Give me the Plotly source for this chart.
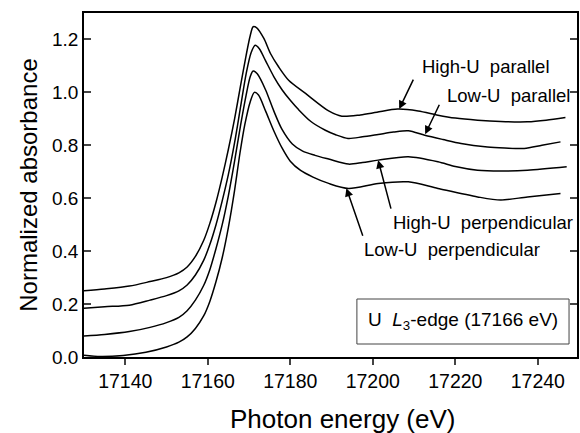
import plotly.graph_objects as go

# ---- data ----
e_hpar = [17130, 17135, 17141, 17146, 17150, 17153, 17155, 17157, 17159, 17160.5, 17162, 17163.5,
          17165, 17166.5, 17168, 17169.3, 17170.3, 17171, 17171.8, 17173.6, 17175.2, 17177.2, 17179.6,
          17183.7, 17189.3, 17192.5, 17197, 17201, 17206, 17211, 17215.8, 17220, 17225.4, 17231,
          17237.5, 17242, 17246.7]
a_hpar = [0.250, 0.257, 0.268, 0.285, 0.300, 0.318, 0.340, 0.380, 0.440, 0.505, 0.585, 0.680,
          0.785, 0.900, 1.030, 1.140, 1.215, 1.248, 1.245, 1.204, 1.147, 1.096, 1.046,
          0.996, 0.930, 0.910, 0.915, 0.925, 0.937, 0.930, 0.914, 0.903, 0.895, 0.890,
          0.889, 0.895, 0.905]

e_lpar = [17130, 17135, 17141, 17146, 17150, 17153, 17155, 17157, 17159, 17160.5, 17162, 17163.5,
          17165, 17166.5, 17168, 17169.3, 17170.5, 17171.5, 17172.5, 17174, 17176, 17178, 17180,
          17182, 17185, 17188.5, 17191, 17194, 17197.5, 17201.3, 17205, 17208.6, 17212.6, 17217,
          17221.4, 17227.8, 17232, 17236.7, 17241, 17245.5]
a_lpar = [0.184, 0.190, 0.196, 0.215, 0.232, 0.250, 0.272, 0.310, 0.365, 0.425, 0.500, 0.590,
          0.690, 0.810, 0.950, 1.070, 1.150, 1.178, 1.165, 1.120, 1.060, 1.010, 0.970,
          0.935, 0.890, 0.857, 0.840, 0.826, 0.832, 0.841, 0.850, 0.855, 0.838, 0.822,
          0.807, 0.794, 0.790, 0.788, 0.800, 0.813]

e_hper = [17130, 17135, 17141, 17146, 17150, 17153, 17155, 17157, 17159, 17160.5, 17162, 17163.5,
          17165, 17166.5, 17168, 17169.3, 17170.3, 17171, 17172, 17174, 17176, 17178, 17180.5,
          17183, 17186, 17189.3, 17194.1, 17197.5, 17201.3, 17208.6, 17215.8, 17220, 17225.4,
          17231, 17237.5, 17247]
a_hper = [0.079, 0.085, 0.096, 0.112, 0.130, 0.150, 0.175, 0.215, 0.270, 0.330, 0.410, 0.500,
          0.610, 0.740, 0.880, 0.990, 1.060, 1.081, 1.070, 1.010, 0.930, 0.860, 0.805,
          0.778, 0.762, 0.748, 0.729, 0.735, 0.744, 0.757, 0.738, 0.720, 0.706,
          0.703, 0.706, 0.719]

e_lper = [17130, 17134, 17139.5, 17145, 17150, 17153, 17155, 17157, 17159, 17160.5, 17162, 17163.5,
          17165, 17166.5, 17167.8, 17169, 17170.3, 17171.3, 17172.3, 17174, 17176, 17178, 17180,
          17182.5, 17185.5, 17189.3, 17194.1, 17201.3, 17208.6, 17215.8, 17225.4, 17231, 17237.5,
          17245.5]
a_lper = [0.007, 0.002, 0.006, 0.018, 0.038, 0.056, 0.076, 0.108, 0.155, 0.210, 0.285, 0.375,
          0.490, 0.630, 0.770, 0.880, 0.965, 1.000, 0.990, 0.930, 0.855, 0.790, 0.740,
          0.705, 0.680, 0.656, 0.637, 0.656, 0.662, 0.637, 0.605, 0.593, 0.605,
          0.618]

y_ticks = [0.0, 0.2, 0.4, 0.6, 0.8, 1.0, 1.2]
x_ticks = [17140, 17160, 17180, 17200, 17220, 17240]

FONT = "Liberation Sans, Arial, sans-serif"

fig = go.Figure()
for ex, ay in [(e_hpar, a_hpar), (e_lpar, a_lpar), (e_hper, a_hper), (e_lper, a_lper)]:
    fig.add_trace(go.Scatter(x=ex, y=ay, mode="lines",
                             line=dict(color="black", width=1.5, shape="spline", smoothing=0.8),
                             showlegend=False, hoverinfo="skip"))

# labels with arrows: (text, text x, text y, arrow tip x, tip y, tail x, tail y)
labels = [
    ("High-U  parallel", 17211.5, 1.097, 17206.4, 0.937, 17210.0, 1.054),
    ("Low-U  parallel", 17217.5, 0.990, 17212.7, 0.842, 17216.3, 0.959),
    ("High-U  perpendicular", 17204.5, 0.510, 17201.3, 0.744, 17204.5, 0.555),
    ("Low-U  perpendicular", 17197.5, 0.405, 17193.6, 0.638, 17197.7, 0.453),
]
for txt, tx, ty, hx, hy, sx, sy in labels:
    fig.add_annotation(x=tx, y=ty, text=txt, showarrow=False, xanchor="left", yanchor="middle",
                       font=dict(family=FONT, size=18.5, color="black"))
    fig.add_annotation(x=hx, y=hy, ax=sx, ay=sy, axref="x", ayref="y", text="", showarrow=True,
                       arrowhead=2, arrowsize=1.1, arrowwidth=1.5, arrowcolor="black")

# edge label box
fig.add_shape(type="rect", xref="paper", yref="paper",
              x0=(358 - 84) / 495, x1=(571 - 84) / 495, y0=(357 - 344) / 344, y1=(357 - 299) / 344,
              line=dict(color="#444444", width=1), fillcolor="white")
fig.add_annotation(xref="paper", yref="paper", x=(367 - 84) / 495, y=(357 - 321) / 344,
                   xanchor="left", yanchor="middle", showarrow=False,
                   text="U  <i>L</i><sub>3</sub>-edge (17166 eV)",
                   font=dict(family=FONT, size=19, color="black"))

# x-axis title
fig.add_annotation(xref="paper", yref="paper", x=(344 - 84) / 495, y=(357 - 419) / 344,
                   xanchor="center", yanchor="middle", showarrow=False,
                   text="Photon energy (eV)", font=dict(family=FONT, size=26, color="black"))

fig.update_layout(
    width=580, height=433,
    margin=dict(l=84, r=1, t=13, b=76),
    paper_bgcolor="white", plot_bgcolor="white",
    font=dict(family=FONT, size=19, color="black"),
    xaxis=dict(range=[17130, 17249.5], tickvals=x_ticks, ticktext=[str(v) for v in x_ticks],
               ticks="outside", ticklen=6, tickwidth=1.5,
               showgrid=False, zeroline=False, showline=True, linecolor="black", linewidth=1.5,
               mirror=True, tickfont=dict(size=19.5)),
    yaxis=dict(range=[0, 1.3], tickvals=y_ticks, tickformat=".1f", ticks="inside", ticklen=7,
               tickwidth=1.5, showgrid=False, zeroline=False, showline=True, linecolor="black",
               linewidth=1.5, mirror="ticks", tickfont=dict(size=19),
               title=dict(text="Normalized absorbance", font=dict(size=24), standoff=8)),
)

fig.write_html("out.html")
